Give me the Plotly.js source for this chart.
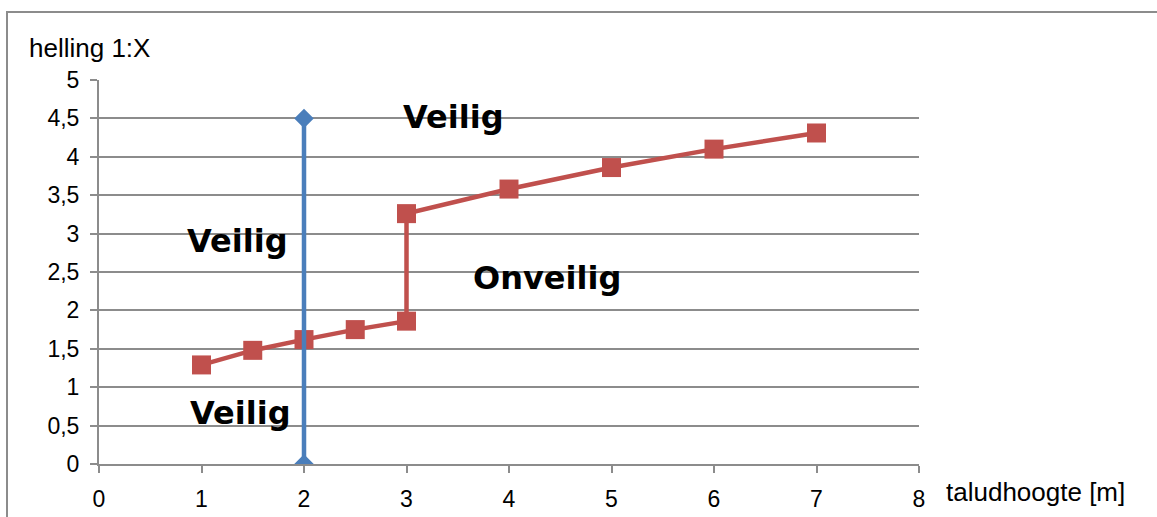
<!DOCTYPE html>
<html>
<head>
<meta charset="utf-8">
<script src="https://cdn.plot.ly/plotly-3.0.1.min.js"></script>
<style>
  html, body { margin: 0; padding: 0; background: #fff; }
  #chart { width: 1157px; height: 517px; }
</style>
</head>
<body>
<div id="chart"></div>
<script>
// Slope (1:X) required for each embankment height
const hoogte = [1, 1.5, 2, 2.5, 3, 3, 4, 5, 6, 7];
const helling = [1.29, 1.48, 1.62, 1.75, 1.86, 3.26, 3.58, 3.86, 4.10, 4.31];

// Vertical boundary at 2 m
const grensX = [2, 2];
const grensY = [0, 4.5];

// Region labels
const zoneTekst = ["Veilig", "Veilig", "Onveilig", "Veilig"];
const zoneX = [3.46, 1.35, 4.37, 1.38];
const zoneY = [4.52, 2.90, 2.42, 0.66];

const xTicks = [0, 1, 2, 3, 4, 5, 6, 7, 8];
const yTicks = [0, 0.5, 1, 1.5, 2, 2.5, 3, 3.5, 4, 4.5, 5];
const yTickText = ["0", "0,5", "1", "1,5", "2", "2,5", "3", "3,5", "4", "4,5", "5"];

const gridKleur = "#8c8c8c";
const tickFont = { family: "Liberation Sans, Arial, sans-serif", size: 23, color: "#000" };

const traces = [
  {
    x: hoogte, y: helling, type: "scatter", mode: "lines+markers",
    line: { color: "#C0504D", width: 4.5 },
    marker: { symbol: "square", size: 19, color: "#C0504D" },
    hoverinfo: "x+y"
  },
  {
    x: grensX, y: grensY, type: "scatter", mode: "lines+markers",
    line: { color: "#4A7EBB", width: 4.5 },
    marker: { symbol: "diamond", size: 15, color: "#4A7EBB" },
    hoverinfo: "x+y"
  }
];

const annotations = zoneTekst.map((t, i) => ({
  x: zoneX[i], y: zoneY[i], xref: "x", yref: "y",
  text: "<b>" + t + "</b>", showarrow: false,
  xanchor: "center", yanchor: "middle",
  font: { family: "DejaVu Sans, sans-serif", size: 32, color: "#000" }
}));

annotations.push({
  x: -0.088, y: 1.083, xref: "paper", yref: "paper",
  text: "helling 1:X", showarrow: false, xanchor: "left", yanchor: "middle",
  font: { family: "Liberation Sans, Arial, sans-serif", size: 26, color: "#000" }
});
annotations.push({
  x: 1.03, y: -0.073, xref: "paper", yref: "paper",
  text: "taludhoogte [m]", showarrow: false, xanchor: "left", yanchor: "middle",
  font: { family: "Liberation Sans, Arial, sans-serif", size: 26, color: "#000" }
});

const layout = {
  width: 1157, height: 517,
  margin: { l: 99, r: 238, t: 80, b: 53 },
  paper_bgcolor: "#fff", plot_bgcolor: "#fff",
  showlegend: false,
  xaxis: {
    range: [0, 8], tickvals: xTicks, ticktext: xTicks.map(String),
    showgrid: false, zeroline: false,
    showline: true, linecolor: gridKleur, linewidth: 2,
    ticks: "outside", ticklen: 7, tickwidth: 2, tickcolor: gridKleur,
    tickfont: tickFont, ticklabelstandoff: 6
  },
  yaxis: {
    range: [0, 5], tickvals: yTicks, ticktext: yTickText,
    showgrid: true, gridcolor: gridKleur, gridwidth: 2, zeroline: false,
    showline: true, linecolor: gridKleur, linewidth: 2,
    ticks: "outside", ticklen: 7, tickwidth: 2, tickcolor: gridKleur,
    tickfont: tickFont, ticklabelstandoff: 6
  },
  annotations: annotations,
  shapes: [{
    type: "rect", xref: "paper", yref: "paper",
    x0: (7 - 99) / 820, x1: 1.5, y0: -0.5, y1: (464 - 12) / 384,
    line: { color: "#8c8c8c", width: 2 }, fillcolor: "rgba(0,0,0,0)", layer: "below"
  }]
};

Plotly.newPlot("chart", traces, layout, { displayModeBar: false, staticPlot: true });
</script>
</body>
</html>
